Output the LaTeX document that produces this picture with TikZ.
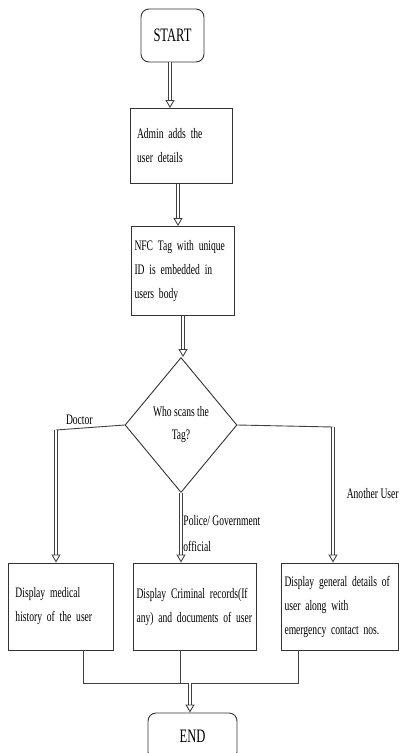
\documentclass[tikz,border=0pt]{standalone}
\usepackage{fontspec}
\setmainfont{Liberation Serif}[FakeStretch=0.66]
\usepackage{tikz}
\usetikzlibrary{shapes.geometric, arrows.meta, positioning, calc}
\tikzset{
  flowbox/.style={
    draw=black!80, line width=0.9pt, align=left, fill=white,
    font=\fontsize{14.5}{24}\selectfont, inner sep=3pt
  },
  termbox/.style={
    draw=black!80, line width=0.9pt, rounded corners=8pt, align=center,
    fill=white, font=\fontsize{19}{24}\selectfont
  },
  decisionbox/.style={
    diamond, draw=black!80, line width=0.9pt, align=center, fill=white,
    font=\fontsize{14.5}{23}\selectfont, inner sep=0pt
  },
  dblarrow/.style={
    double=white, double distance=2pt, line width=0.9pt, draw=black!75,
    -{Triangle[open, length=8pt, width=9pt]}
  },
  plainline/.style={line width=0.9pt, draw=black!75},
  branchlabel/.style={font=\fontsize{14.5}{26}\selectfont, align=left}
}

\begin{document}
\begin{tikzpicture}[x=1pt, y=-1pt]
  \useasboundingbox (0,0) rectangle (403,753);

  % === Main column ===
  \node[termbox, minimum width=63pt, minimum height=53pt] (start) at (172.5, 35.5) {START};

  \node[flowbox, minimum width=102pt, minimum height=75pt, text width=88pt] (admin) at (181, 146)
    {Admin adds the\\user details};

  \node[flowbox, minimum width=103pt, minimum height=89pt, text width=96pt] (nfc) at (182.5, 271)
    {NFC Tag with unique\\ID is embedded in\\users body};

  \node[decisionbox, minimum width=112pt, minimum height=135pt] (scan) at (181, 425)
    {Who scans the\\Tag?};

  % === Result boxes ===
  \node[flowbox, minimum width=105pt, minimum height=87pt, text width=90pt] (medical) at (60.5, 606.5)
    {Display medical\\history of the user};

  \node[flowbox, minimum width=123pt, minimum height=87pt, text width=116pt] (criminal) at (194.5, 606.5)
    {Display Criminal records(If\\any) and documents of user\\[22pt]};

  \node[flowbox, minimum width=116pt, minimum height=87pt, text width=111pt] (general) at (340, 606.5)
    {Display general details of\\user along with\\emergency contact nos.};

  \node[termbox, minimum width=89pt, minimum height=47pt] (stop) at (192.5, 736.5) {END};

  % === Helper points ===
  \coordinate (docturn) at (56, 430);
  \coordinate (userturn) at (333, 427);
  \coordinate (merge) at (190, 683);

  % === Arrows ===
  \draw[dblarrow] ([xshift=-2.5pt]start.south) -- ([xshift=-2.5pt]start.south |- admin.north);
  \draw[dblarrow] ([xshift=-3pt]admin.south) -- ([xshift=-3pt]admin.south |- nfc.north);
  \draw[dblarrow] ([xshift=0.5pt]nfc.south) -- ([xshift=0.5pt]nfc.south |- scan.north);

  \draw[plainline] (scan.west) -- node[branchlabel, above, pos=0.66] {Doctor} (docturn);
  \draw[dblarrow] (docturn) -- (docturn |- medical.north);

  \draw[dblarrow] (scan.south) -- node[branchlabel, right, pos=0.58, inner sep=2pt]
    {Police/ Government\\official} (scan.south |- criminal.north);

  \draw[plainline] (scan.east) -- (userturn);
  \draw[dblarrow] (userturn) -- node[branchlabel, right, pos=0.49, xshift=10pt] {Another User}
    (userturn |- general.north);

  % === Merge to end ===
  \draw[plainline] ([xshift=22.5pt]medical.south) |- (merge);
  \draw[plainline] ([xshift=-14.5pt]criminal.south) -- ([xshift=-14.5pt]criminal.south |- merge);
  \draw[plainline] ([xshift=-42pt]general.south) |- (merge);
  \draw[dblarrow] (merge) -- (merge |- stop.north);

\end{tikzpicture}
\end{document}
